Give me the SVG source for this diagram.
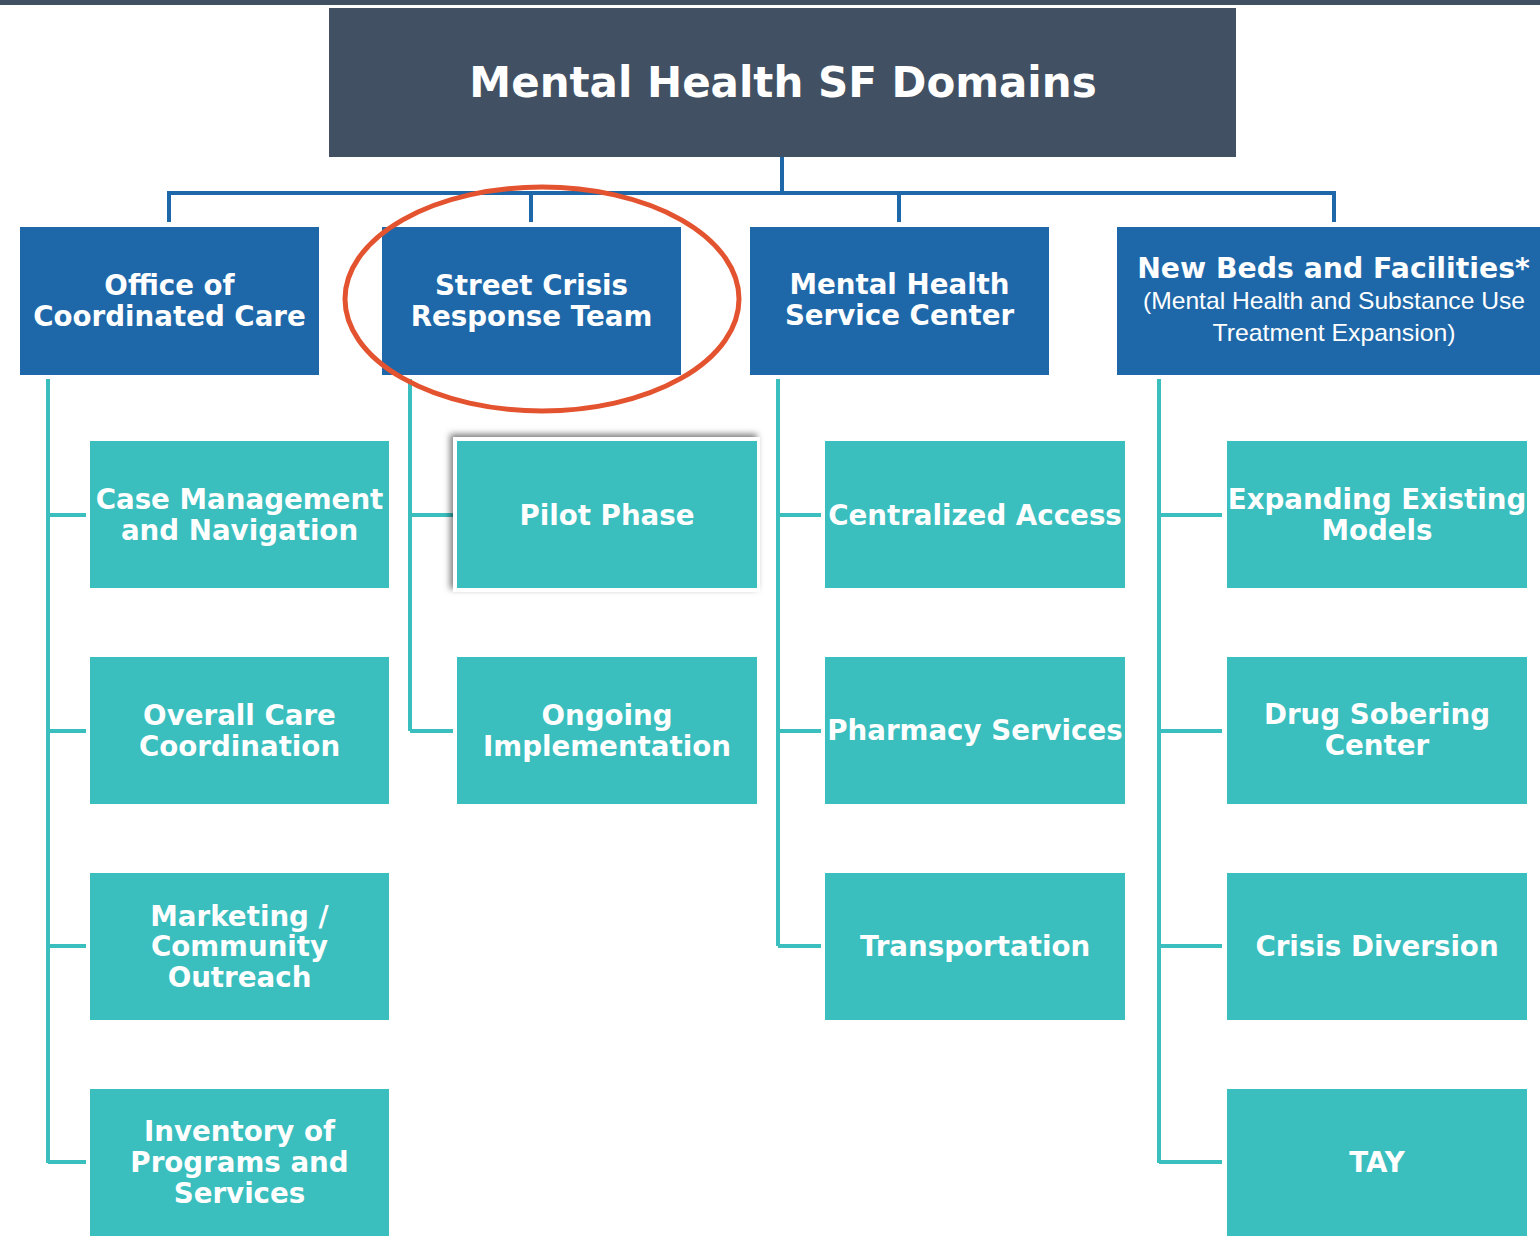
<svg xmlns="http://www.w3.org/2000/svg" width="1540" height="1236" viewBox="0 0 1540 1236">
<defs>
<style>
.l1{fill:#1e68aa;}
.l2{fill:#3abebe;}
.t{font-family:"DejaVu Sans",Verdana,sans-serif;font-weight:bold;fill:#ffffff;text-anchor:middle;font-size:27.7px;}
.sub{font-family:"Liberation Sans","Open Sans",sans-serif;fill:#ffffff;text-anchor:middle;font-size:24px;}
.blue{stroke:#1e68aa;stroke-width:4;fill:none;}
.teal{stroke:#3abebe;stroke-width:4;fill:none;}
</style>
<filter id="sh" x="-10%" y="-10%" width="120%" height="120%">
<feDropShadow dx="-3" dy="-3" stdDeviation="3" flood-color="#000" flood-opacity="0.5"/>
</filter>
</defs>
<rect x="0" y="0" width="1540" height="1236" fill="#ffffff"/>
<rect x="0" y="0" width="1540" height="5" fill="#415163"/>
<rect x="326" y="5" width="913" height="155" fill="#ffffff"/>

<g id="connectors">
<path class="blue" d="M782 157 V193 M169 222 V193 H1334 V222 M531 193 V222 M899 193 V222"/>
<path class="teal" d="M48 379 V1163 M48 515 H86 M48 731 H86 M48 946 H86 M48 1162 H86"/>
<path class="teal" d="M410 379 V731 M410 515 H453 M410 731 H453"/>
<path class="teal" d="M778 379 V946 M778 515 H821 M778 731 H821 M778 946 H821"/>
<path class="teal" d="M1159 379 V1163 M1159 515 H1222 M1159 731 H1222 M1159 946 H1222 M1159 1162 H1222"/>
</g>

<g id="title">
<rect x="329" y="8" width="907" height="149" fill="#415163"/>
<text x="783" y="97" class="t" style="font-size:42px">Mental Health SF Domains</text>
</g>

<g id="occ">
<rect class="l1" x="20" y="227" width="299" height="148"/>
<text class="t" x="169.500" y="295">Office of</text>
<text class="t" x="169.500" y="326">Coordinated Care</text>
</g>
<g id="scrt">
<rect class="l1" x="382" y="227" width="299" height="148"/>
<text class="t" x="531.500" y="295">Street Crisis</text>
<text class="t" x="531.500" y="326">Response Team</text>
</g>
<g id="mhsc">
<rect class="l1" x="750" y="227" width="299" height="148"/>
<text class="t" x="899.500" y="294">Mental Health</text>
<text class="t" x="899.500" y="325">Service Center</text>
</g>
<g id="newbeds">
<rect class="l1" x="1117" y="227" width="423" height="148"/>
<text class="t" x="1333.500" y="278" style="font-size:28.3px">New Beds and Facilities*</text>
<text class="sub" x="1334" y="309" textLength="382" lengthAdjust="spacingAndGlyphs">(Mental Health and Substance Use</text>
<text class="sub" x="1334" y="341" textLength="243" lengthAdjust="spacingAndGlyphs">Treatment Expansion)</text>
</g>

<g id="case-mgmt">
<rect class="l2" x="90" y="441" width="299" height="147"/>
<text class="t" x="239.500" y="509">Case Management</text>
<text class="t" x="239.500" y="540">and Navigation</text>
</g>
<g id="overall-care">
<rect class="l2" x="90" y="657" width="299" height="147"/>
<text class="t" x="239.500" y="725">Overall Care</text>
<text class="t" x="239.500" y="756">Coordination</text>
</g>
<g id="marketing">
<rect class="l2" x="90" y="873" width="299" height="147"/>
<text class="t" x="239.500" y="926">Marketing /</text>
<text class="t" x="239.500" y="956">Community</text>
<text class="t" x="239.500" y="987">Outreach</text>
</g>
<g id="inventory">
<rect class="l2" x="90" y="1089" width="299" height="147"/>
<text class="t" x="239.500" y="1141">Inventory of</text>
<text class="t" x="239.500" y="1172">Programs and</text>
<text class="t" x="239.500" y="1203">Services</text>
</g>

<g id="pilot">
<rect x="453" y="437" width="307" height="155" fill="#ffffff" filter="url(#sh)"/>
<rect class="l2" x="457" y="441" width="300" height="147"/>
<text class="t" x="607" y="525">Pilot Phase</text>
</g>
<g id="ongoing">
<rect class="l2" x="457" y="657" width="300" height="147"/>
<text class="t" x="607" y="725">Ongoing</text>
<text class="t" x="607" y="756">Implementation</text>
</g>

<g id="centralized">
<rect class="l2" x="825" y="441" width="300" height="147"/>
<text class="t" x="975" y="525">Centralized Access</text>
</g>
<g id="pharmacy">
<rect class="l2" x="825" y="657" width="300" height="147"/>
<text class="t" x="975" y="740">Pharmacy Services</text>
</g>
<g id="transport">
<rect class="l2" x="825" y="873" width="300" height="147"/>
<text class="t" x="975" y="956">Transportation</text>
</g>

<g id="expanding">
<rect class="l2" x="1227" y="441" width="300" height="147"/>
<text class="t" x="1377" y="509">Expanding Existing</text>
<text class="t" x="1377" y="540">Models</text>
</g>
<g id="drug-sobering">
<rect class="l2" x="1227" y="657" width="300" height="147"/>
<text class="t" x="1377" y="724">Drug Sobering</text>
<text class="t" x="1377" y="755">Center</text>
</g>
<g id="crisis-div">
<rect class="l2" x="1227" y="873" width="300" height="147"/>
<text class="t" x="1377" y="956">Crisis Diversion</text>
</g>
<g id="tay">
<rect class="l2" x="1227" y="1089" width="300" height="147"/>
<text class="t" x="1377" y="1172">TAY</text>
</g>

<ellipse cx="542" cy="299" rx="197" ry="112" fill="none" stroke="#e4532f" stroke-width="5"/>
</svg>
